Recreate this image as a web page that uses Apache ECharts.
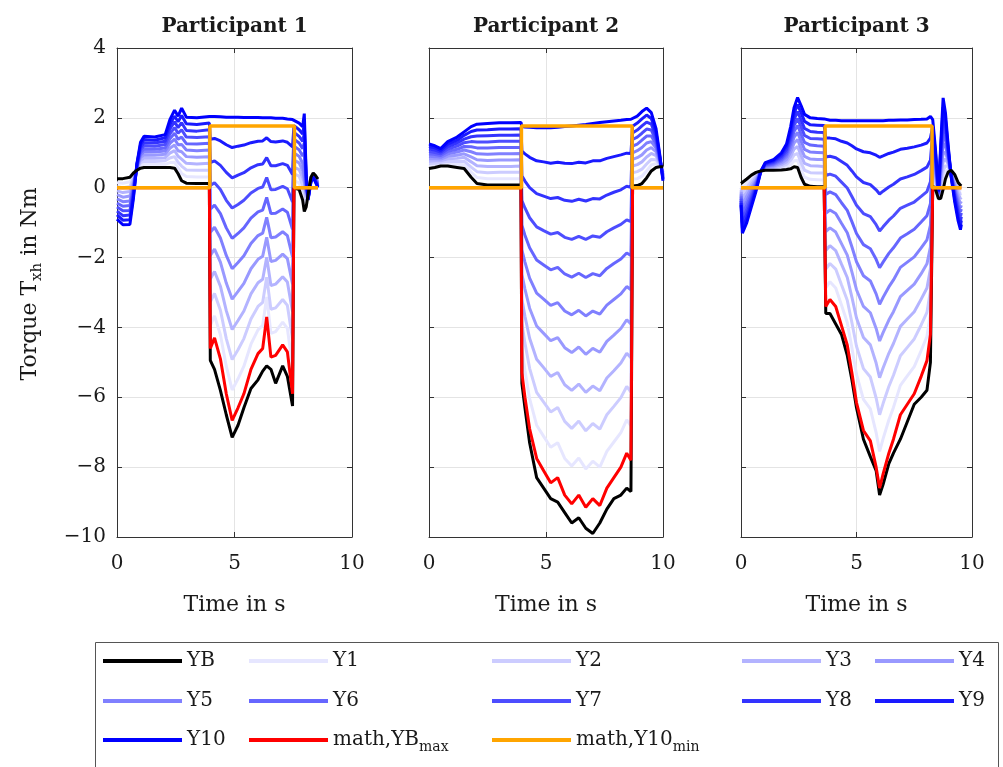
<!DOCTYPE html>
<html><head><meta charset="utf-8">
<script src="https://cdn.jsdelivr.net/npm/echarts@6/dist/echarts.min.js"></script>
<style>html,body{margin:0;padding:0;background:#fff}#c{width:1003px;height:767px}</style>
</head><body><div id="c"></div>
<script>
// ---------- Participant 1 ----------
const P1_t = [0, 0.25, 0.55, 0.7, 0.85, 1.0, 1.15, 1.6, 2.05, 2.25, 2.45, 2.6, 2.75, 2.95, 3.4, 3.93,
  3.97, 4.15, 4.4, 4.65, 4.9, 5.15, 5.4, 5.7, 6.0, 6.2, 6.37, 6.55, 6.75, 7.05, 7.25, 7.47,
  7.53, 7.75, 7.9, 7.97, 8.05, 8.13, 8.25, 8.35, 8.45, 8.55];
const P1_YB = [0.26, 0.26, 0.3, 0.42, 0.5, 0.56, 0.58, 0.58, 0.58, 0.58, 0.56, 0.4, 0.2, 0.13, 0.12, 0.12,
  -4.94, -5.2, -5.8, -6.5, -7.15, -6.8, -6.3, -5.75, -5.5, -5.25, -5.1, -5.2, -5.6, -5.1, -5.4, -6.25,
  0.0, -0.05, -0.35, -0.68, -0.55, -0.2, 0.3, 0.42, 0.35, 0.25];
const P1_YBmax = [0, 0, 0, 0, 0, 0, 0, 0, 0, 0, 0, 0, 0, 0, 0, 0,
  -4.6, -4.3, -4.9, -5.9, -6.66, -6.3, -5.9, -5.2, -4.75, -4.6, -3.7, -4.85, -4.8, -4.5, -4.7, -5.9,
  0, 0, 0, 0, 0, 0, 0, 0, 0, 0];
// rows: values of Y1..Y10 at each time in P1_t
const P1_Y = [
  [0.14, 0.03, -0.09, -0.20, -0.32, -0.44, -0.55, -0.67, -0.78, -0.90],
  [0.13, 0.00, -0.14, -0.27, -0.40, -0.53, -0.66, -0.80, -0.93, -1.06],
  [0.17, 0.03, -0.11, -0.24, -0.38, -0.51, -0.65, -0.78, -0.92, -1.05],
  [0.35, 0.28, 0.20, 0.13, 0.06, -0.01, -0.08, -0.16, -0.23, -0.30],
  [0.52, 0.54, 0.56, 0.58, 0.60, 0.62, 0.64, 0.66, 0.68, 0.70],
  [0.63, 0.71, 0.78, 0.86, 0.93, 1.00, 1.08, 1.15, 1.23, 1.30],
  [0.67, 0.76, 0.85, 0.94, 1.03, 1.11, 1.20, 1.29, 1.38, 1.47],
  [0.67, 0.75, 0.84, 0.93, 1.02, 1.10, 1.19, 1.28, 1.36, 1.45],
  [0.67, 0.77, 0.86, 0.96, 1.05, 1.14, 1.24, 1.33, 1.43, 1.52],
  [0.72, 0.85, 0.99, 1.13, 1.27, 1.40, 1.54, 1.68, 1.81, 1.95],
  [0.73, 0.89, 1.06, 1.22, 1.39, 1.56, 1.72, 1.89, 2.05, 2.22],
  [0.57, 0.73, 0.90, 1.06, 1.23, 1.39, 1.56, 1.72, 1.89, 2.05],
  [0.41, 0.62, 0.82, 1.03, 1.24, 1.45, 1.66, 1.86, 2.07, 2.28],
  [0.32, 0.51, 0.70, 0.89, 1.08, 1.26, 1.45, 1.64, 1.83, 2.02],
  [0.31, 0.50, 0.68, 0.87, 1.06, 1.25, 1.44, 1.62, 1.81, 2.00],
  [0.31, 0.50, 0.70, 0.89, 1.08, 1.27, 1.46, 1.66, 1.85, 2.04],
  [-3.94, -3.27, -2.61, -1.94, -1.28, -0.61, 0.06, 0.72, 1.39, 2.05],
  [-3.67, -3.03, -2.40, -1.76, -1.13, -0.50, 0.14, 0.77, 1.41, 2.04],
  [-4.21, -3.51, -2.82, -2.13, -1.44, -0.74, -0.05, 0.64, 1.34, 2.03],
  [-5.11, -4.32, -3.52, -2.73, -1.94, -1.15, -0.36, 0.44, 1.23, 2.02],
  [-5.79, -4.92, -4.06, -3.19, -2.32, -1.45, -0.58, 0.28, 1.15, 2.02],
  [-5.47, -4.64, -3.80, -2.97, -2.14, -1.31, -0.48, 0.36, 1.19, 2.02],
  [-5.11, -4.32, -3.53, -2.74, -1.95, -1.15, -0.36, 0.43, 1.22, 2.01],
  [-4.48, -3.76, -3.04, -2.32, -1.60, -0.87, -0.15, 0.57, 1.29, 2.01],
  [-4.07, -3.40, -2.72, -2.05, -1.37, -0.69, -0.02, 0.66, 1.33, 2.01],
  [-3.94, -3.28, -2.62, -1.96, -1.30, -0.64, 0.02, 0.68, 1.34, 2.00],
  [-3.13, -2.56, -1.99, -1.42, -0.85, -0.28, 0.29, 0.86, 1.43, 2.00],
  [-4.17, -3.48, -2.80, -2.11, -1.43, -0.74, -0.06, 0.63, 1.32, 2.00],
  [-4.12, -3.44, -2.76, -2.08, -1.41, -0.73, -0.05, 0.63, 1.31, 1.99],
  [-3.85, -3.20, -2.55, -1.90, -1.26, -0.61, 0.04, 0.69, 1.34, 1.99],
  [-4.03, -3.37, -2.70, -2.03, -1.37, -0.70, -0.03, 0.64, 1.30, 1.97],
  [-5.12, -4.33, -3.55, -2.76, -1.98, -1.19, -0.41, 0.38, 1.17, 1.95],
  [0.20, 0.40, 0.59, 0.79, 0.99, 1.19, 1.39, 1.58, 1.78, 1.98],
  [0.14, 0.33, 0.52, 0.71, 0.90, 1.09, 1.28, 1.47, 1.66, 1.85],
  [-0.14, 0.07, 0.28, 0.49, 0.70, 0.91, 1.12, 1.33, 1.54, 1.75],
  [-0.40, -0.12, 0.16, 0.44, 0.72, 1.00, 1.28, 1.56, 1.84, 2.12],
  [-0.46, -0.36, -0.27, -0.17, -0.08, 0.02, 0.12, 0.21, 0.31, 0.40],
  [-0.22, -0.23, -0.25, -0.26, -0.28, -0.29, -0.31, -0.32, -0.34, -0.35],
  [0.29, 0.27, 0.26, 0.24, 0.23, 0.21, 0.20, 0.18, 0.17, 0.15],
  [0.41, 0.40, 0.38, 0.37, 0.36, 0.35, 0.34, 0.32, 0.31, 0.30],
  [0.33, 0.31, 0.29, 0.27, 0.25, 0.23, 0.21, 0.19, 0.17, 0.15],
  [0.23, 0.20, 0.18, 0.15, 0.13, 0.10, 0.08, 0.05, 0.03, 0.00]
];
const P1_Y10min_t = [0, 3.95, 3.95, 7.55, 7.55, 8.55];
const P1_Y10min = [0, 0, 1.77, 1.77, 0, 0];

// ---------- Participant 2 ----------
const P2_t = [0, 0.25, 0.5, 0.8, 1.2, 1.5, 1.8, 2.05, 2.5, 3.0, 3.5, 3.93,
  3.97, 4.1, 4.3, 4.6, 4.9, 5.2, 5.5, 5.8, 6.1, 6.4, 6.7, 7.0, 7.3, 7.6, 7.9, 8.2, 8.45, 8.63,
  8.7, 8.9, 9.1, 9.3, 9.5, 9.7, 9.85, 10];
const P2_YB = [0.55, 0.58, 0.62, 0.62, 0.58, 0.55, 0.3, 0.12, 0.08, 0.08, 0.08, 0.08,
  -5.6, -6.3, -7.3, -8.3, -8.6, -8.9, -9.0, -9.3, -9.6, -9.45, -9.75, -9.9, -9.6, -9.2, -8.9, -8.8, -8.6, -8.7,
  0.05, 0.06, 0.12, 0.28, 0.48, 0.58, 0.6, 0.6];
const P2_YBmax = [0, 0, 0, 0, 0, 0, 0, 0, 0, 0, 0, 0,
  -5.3, -6.0, -6.9, -7.75, -8.1, -8.45, -8.3, -8.8, -9.05, -8.8, -9.15, -8.9, -9.1, -8.6, -8.3, -8.0, -7.6, -7.8,
  0, 0, 0, 0, 0, 0, 0, 0];
const P2_Y = [
  [0.62, 0.69, 0.76, 0.83, 0.90, 0.97, 1.04, 1.11, 1.18, 1.25],
  [0.64, 0.70, 0.77, 0.83, 0.89, 0.95, 1.01, 1.08, 1.14, 1.20],
  [0.67, 0.72, 0.77, 0.82, 0.87, 0.92, 0.97, 1.02, 1.07, 1.12],
  [0.69, 0.76, 0.83, 0.90, 0.97, 1.04, 1.11, 1.18, 1.25, 1.32],
  [0.67, 0.75, 0.84, 0.93, 1.02, 1.10, 1.19, 1.28, 1.36, 1.45],
  [0.66, 0.76, 0.87, 0.97, 1.08, 1.18, 1.29, 1.39, 1.50, 1.60],
  [0.45, 0.59, 0.74, 0.88, 1.03, 1.17, 1.32, 1.46, 1.61, 1.75],
  [0.29, 0.46, 0.63, 0.80, 0.97, 1.14, 1.31, 1.48, 1.65, 1.82],
  [0.26, 0.43, 0.61, 0.78, 0.96, 1.14, 1.31, 1.49, 1.66, 1.84],
  [0.26, 0.44, 0.61, 0.79, 0.97, 1.15, 1.33, 1.50, 1.68, 1.86],
  [0.26, 0.44, 0.61, 0.79, 0.97, 1.15, 1.33, 1.50, 1.68, 1.86],
  [0.26, 0.44, 0.62, 0.80, 0.98, 1.15, 1.33, 1.51, 1.69, 1.87],
  [-4.60, -3.89, -3.19, -2.48, -1.78, -1.07, -0.37, 0.34, 1.05, 1.75],
  [-5.23, -4.45, -3.68, -2.90, -2.13, -1.36, -0.58, 0.19, 0.97, 1.74],
  [-6.04, -5.17, -4.31, -3.45, -2.59, -1.72, -0.86, 0.00, 0.87, 1.73],
  [-6.80, -5.86, -4.91, -3.96, -3.02, -2.07, -1.12, -0.17, 0.77, 1.72],
  [-7.12, -6.14, -5.15, -4.17, -3.19, -2.21, -1.23, -0.24, 0.74, 1.72],
  [-7.43, -6.42, -5.40, -4.38, -3.37, -2.35, -1.33, -0.31, 0.70, 1.72],
  [-7.30, -6.29, -5.29, -4.29, -3.29, -2.28, -1.28, -0.28, 0.73, 1.73],
  [-7.75, -6.69, -5.64, -4.58, -3.53, -2.47, -1.42, -0.36, 0.70, 1.75],
  [-7.97, -6.89, -5.80, -4.72, -3.64, -2.56, -1.48, -0.39, 0.69, 1.77],
  [-7.74, -6.68, -5.62, -4.56, -3.51, -2.45, -1.39, -0.33, 0.73, 1.79],
  [-8.05, -6.96, -5.86, -4.77, -3.67, -2.57, -1.48, -0.38, 0.71, 1.81],
  [-7.83, -6.75, -5.68, -4.60, -3.53, -2.46, -1.38, -0.31, 0.77, 1.84],
  [-8.00, -6.91, -5.81, -4.71, -3.62, -2.52, -1.42, -0.32, 0.77, 1.87],
  [-7.55, -6.50, -5.45, -4.40, -3.36, -2.31, -1.26, -0.21, 0.84, 1.89],
  [-7.28, -6.26, -5.24, -4.22, -3.20, -2.17, -1.15, -0.13, 0.89, 1.91],
  [-7.01, -6.01, -5.02, -4.03, -3.04, -2.04, -1.05, -0.06, 0.94, 1.93],
  [-6.65, -5.69, -4.74, -3.78, -2.83, -1.87, -0.92, 0.04, 0.99, 1.95],
  [-6.82, -5.85, -4.87, -3.90, -2.92, -1.94, -0.97, 0.01, 0.98, 1.96],
  [0.24, 0.43, 0.62, 0.81, 1.00, 1.19, 1.38, 1.57, 1.76, 1.95],
  [0.26, 0.46, 0.66, 0.86, 1.06, 1.25, 1.45, 1.65, 1.85, 2.05],
  [0.33, 0.53, 0.74, 0.94, 1.15, 1.36, 1.56, 1.77, 1.97, 2.18],
  [0.48, 0.68, 0.88, 1.08, 1.28, 1.48, 1.68, 1.88, 2.08, 2.28],
  [0.65, 0.81, 0.98, 1.15, 1.32, 1.48, 1.65, 1.82, 1.98, 2.15],
  [0.69, 0.80, 0.92, 1.03, 1.14, 1.25, 1.36, 1.48, 1.59, 1.70],
  [0.64, 0.68, 0.72, 0.76, 0.80, 0.84, 0.88, 0.92, 0.96, 1.00],
  [0.56, 0.52, 0.48, 0.44, 0.40, 0.36, 0.32, 0.28, 0.24, 0.20]
];
const P2_Y10min_t = [0, 3.95, 3.95, 8.68, 8.68, 10];
const P2_Y10min = [0, 0, 1.77, 1.77, 0, 0];

// ---------- Participant 3 ----------
const P3_t = [0, 0.06, 0.25, 0.45, 0.65, 0.85, 1.05, 1.4, 1.75, 1.97, 2.15, 2.3, 2.45, 2.6, 2.75, 3.0, 3.3, 3.6,
  3.67, 3.85, 4.1, 4.35, 4.6, 4.8, 5.0, 5.3, 5.6, 5.85, 6.0, 6.15, 6.4, 6.6, 6.9, 7.2, 7.5, 7.8, 8.05, 8.2,
  8.3, 8.42, 8.55, 8.65, 8.75, 8.85, 8.97, 9.1, 9.25, 9.4, 9.5, 9.54];
const P3_YB = [0.12, 0.14, 0.25, 0.36, 0.44, 0.48, 0.5, 0.5, 0.51, 0.52, 0.54, 0.6, 0.58, 0.3, 0.1, 0.04, 0.03, 0.03,
  -3.6, -3.6, -3.9, -4.2, -4.8, -5.5, -6.3, -7.2, -7.7, -8.1, -8.8, -8.5, -7.9, -7.6, -7.2, -6.7, -6.2, -6.0, -5.8, -5.0,
  0.05, -0.05, -0.32, -0.3, -0.05, 0.25, 0.45, 0.5, 0.38, 0.15, 0.07, 0.05];
const P3_YBmax = [0, 0, 0, 0, 0, 0, 0, 0, 0, 0, 0, 0, 0, 0, 0, 0, 0, 0,
  -3.4, -3.2, -3.4, -3.95, -4.5, -5.3, -6.15, -6.95, -7.25, -8.0, -8.6, -8.2, -7.6, -7.2, -6.5, -6.2, -5.9, -5.4, -4.95, -4.2,
  0, 0, 0, 0, 0, 0, 0, 0, 0, 0, 0, 0];
const P3_Y = [
  [0.06, -0.00, -0.07, -0.13, -0.19, -0.25, -0.31, -0.38, -0.44, -0.50],
  [-0.00, -0.15, -0.29, -0.44, -0.58, -0.72, -0.87, -1.01, -1.16, -1.30],
  [0.13, 0.00, -0.13, -0.25, -0.38, -0.50, -0.63, -0.75, -0.88, -1.00],
  [0.27, 0.18, 0.09, -0.00, -0.10, -0.19, -0.28, -0.37, -0.46, -0.55],
  [0.39, 0.33, 0.28, 0.22, 0.17, 0.12, 0.06, 0.01, -0.05, -0.10],
  [0.48, 0.47, 0.47, 0.47, 0.47, 0.46, 0.46, 0.46, 0.45, 0.45],
  [0.52, 0.54, 0.57, 0.59, 0.61, 0.63, 0.65, 0.68, 0.70, 0.72],
  [0.53, 0.56, 0.59, 0.62, 0.65, 0.68, 0.71, 0.74, 0.77, 0.80],
  [0.56, 0.61, 0.66, 0.71, 0.76, 0.80, 0.85, 0.90, 0.95, 1.00],
  [0.59, 0.67, 0.74, 0.81, 0.89, 0.96, 1.03, 1.10, 1.18, 1.25],
  [0.66, 0.78, 0.90, 1.02, 1.15, 1.27, 1.39, 1.51, 1.63, 1.75],
  [0.77, 0.94, 1.11, 1.28, 1.45, 1.62, 1.79, 1.96, 2.13, 2.30],
  [0.78, 0.98, 1.18, 1.38, 1.58, 1.78, 1.98, 2.18, 2.38, 2.58],
  [0.51, 0.71, 0.92, 1.12, 1.33, 1.53, 1.74, 1.94, 2.15, 2.35],
  [0.30, 0.50, 0.70, 0.90, 1.10, 1.30, 1.50, 1.70, 1.90, 2.10],
  [0.24, 0.43, 0.63, 0.82, 1.02, 1.22, 1.41, 1.61, 1.80, 2.00],
  [0.23, 0.42, 0.62, 0.81, 1.01, 1.20, 1.40, 1.59, 1.79, 1.98],
  [0.22, 0.42, 0.61, 0.81, 1.00, 1.19, 1.39, 1.58, 1.78, 1.97],
  [-2.87, -2.33, -1.80, -1.26, -0.73, -0.19, 0.35, 0.88, 1.42, 1.95],
  [-2.69, -2.17, -1.66, -1.15, -0.64, -0.12, 0.39, 0.90, 1.42, 1.93],
  [-2.87, -2.33, -1.80, -1.27, -0.74, -0.20, 0.33, 0.86, 1.40, 1.93],
  [-3.36, -2.78, -2.19, -1.60, -1.02, -0.43, 0.16, 0.75, 1.33, 1.92],
  [-3.86, -3.22, -2.57, -1.93, -1.29, -0.65, -0.01, 0.64, 1.28, 1.92],
  [-4.58, -3.86, -3.13, -2.41, -1.69, -0.97, -0.25, 0.48, 1.20, 1.92],
  [-5.34, -4.54, -3.73, -2.92, -2.12, -1.31, -0.50, 0.31, 1.11, 1.92],
  [-6.06, -5.18, -4.29, -3.40, -2.52, -1.63, -0.74, 0.15, 1.03, 1.92],
  [-6.33, -5.42, -4.50, -3.58, -2.67, -1.75, -0.83, 0.09, 1.00, 1.92],
  [-7.01, -6.02, -5.02, -4.03, -3.04, -2.05, -1.06, -0.06, 0.93, 1.92],
  [-7.55, -6.50, -5.44, -4.39, -3.34, -2.29, -1.24, -0.18, 0.87, 1.92],
  [-7.19, -6.18, -5.16, -4.15, -3.14, -2.13, -1.12, -0.10, 0.91, 1.92],
  [-6.65, -5.69, -4.74, -3.79, -2.84, -1.88, -0.93, 0.02, 0.98, 1.93],
  [-6.29, -5.37, -4.46, -3.55, -2.64, -1.72, -0.81, 0.10, 1.02, 1.93],
  [-5.66, -4.81, -3.97, -3.12, -2.28, -1.44, -0.59, 0.25, 1.10, 1.94],
  [-5.39, -4.57, -3.76, -2.94, -2.13, -1.32, -0.50, 0.31, 1.13, 1.94],
  [-5.12, -4.33, -3.55, -2.76, -1.98, -1.19, -0.41, 0.38, 1.17, 1.95],
  [-4.66, -3.93, -3.19, -2.46, -1.72, -0.98, -0.25, 0.49, 1.22, 1.96],
  [-4.26, -3.57, -2.87, -2.18, -1.49, -0.80, -0.11, 0.59, 1.28, 1.97],
  [-3.58, -2.95, -2.33, -1.70, -1.08, -0.46, 0.17, 0.79, 1.42, 2.04],
  [0.24, 0.43, 0.62, 0.81, 1.00, 1.19, 1.38, 1.57, 1.76, 1.95],
  [0.07, 0.18, 0.30, 0.41, 0.53, 0.64, 0.76, 0.87, 0.99, 1.10],
  [-0.30, -0.28, -0.25, -0.23, -0.21, -0.19, -0.17, -0.14, -0.12, -0.10],
  [-0.14, 0.02, 0.18, 0.34, 0.50, 0.66, 0.82, 0.98, 1.14, 1.30],
  [0.21, 0.47, 0.74, 1.00, 1.26, 1.52, 1.78, 2.05, 2.31, 2.57],
  [0.44, 0.63, 0.82, 1.01, 1.20, 1.39, 1.58, 1.77, 1.96, 2.15],
  [0.53, 0.60, 0.68, 0.75, 0.83, 0.90, 0.98, 1.05, 1.13, 1.20],
  [0.48, 0.46, 0.44, 0.42, 0.40, 0.38, 0.36, 0.34, 0.32, 0.30],
  [0.30, 0.22, 0.15, 0.07, -0.01, -0.09, -0.17, -0.24, -0.32, -0.40],
  [0.04, -0.07, -0.18, -0.29, -0.40, -0.51, -0.62, -0.73, -0.84, -0.95],
  [-0.06, -0.18, -0.31, -0.44, -0.57, -0.69, -0.82, -0.95, -1.07, -1.20],
  [-0.06, -0.17, -0.28, -0.39, -0.50, -0.61, -0.72, -0.83, -0.94, -1.05]
];
const P3_Y10min_t = [0, 3.64, 3.64, 8.27, 8.27, 9.54];
const P3_Y10min = [0, 0, 1.77, 1.77, 0, 0];

// ---------- labels / ticks ----------
const TITLES = ['Participant 1', 'Participant 2', 'Participant 3'];
const X_NAME = 'Time in s';
const Y_NAMES = ['Y1', 'Y2', 'Y3', 'Y4', 'Y5', 'Y6', 'Y7', 'Y8', 'Y9', 'Y10'];
const Y_COLORS = ['#e6e6ff', '#ccccff', '#b3b3ff', '#9999ff', '#8080ff', '#6666ff', '#4d4dff', '#3333ff', '#1a1aff', '#0000ff'];

const FONT = 'DejaVu Serif';
const TXT = '#1a1a1a';
const AX = '#333333';
const GRID_COLOR = '#e4e4e4';

const panels = [
  {t: P1_t, yb: P1_YB, ybmax: P1_YBmax, y: P1_Y, ot: P1_Y10min_t, ov: P1_Y10min},
  {t: P2_t, yb: P2_YB, ybmax: P2_YBmax, y: P2_Y, ot: P2_Y10min_t, ov: P2_Y10min},
  {t: P3_t, yb: P3_YB, ybmax: P3_YBmax, y: P3_Y, ot: P3_Y10min_t, ov: P3_Y10min}
];
const gridBoxes = [
  {left: 117, top: 48, width: 235, height: 489},
  {left: 429, top: 48, width: 234, height: 489},
  {left: 741, top: 48, width: 231, height: 489}
];

const minusFmt = v => (v < 0 ? '\u2212' + Math.abs(v) : String(v));

const xAxes = [], yAxes = [], series = [];
gridBoxes.forEach((g, i) => {
  xAxes.push({
    gridIndex: i, type: 'value', min: 0, max: 10, interval: 5, position: 'bottom',
    axisLine: {show: true, onZero: false, lineStyle: {color: AX, width: 1}},
    axisTick: {show: true, inside: true, length: 5, lineStyle: {color: AX}},
    axisLabel: {show: true, margin: 17, fontFamily: FONT, fontSize: 20, color: TXT},
    splitLine: {show: true, lineStyle: {color: GRID_COLOR, width: 1}},
    name: X_NAME, nameLocation: 'middle', nameGap: 57,
    nameTextStyle: {fontFamily: FONT, fontSize: 22, color: TXT}
  });
  xAxes.push({
    gridIndex: i, type: 'value', min: 0, max: 10, interval: 5, position: 'top',
    axisLine: {show: true, onZero: false, lineStyle: {color: AX, width: 1}},
    axisTick: {show: true, inside: true, length: 5, lineStyle: {color: AX}},
    axisLabel: {show: false}, splitLine: {show: false}
  });
  yAxes.push({
    gridIndex: i, type: 'value', min: -10, max: 4, interval: 2, position: 'left',
    axisLine: {show: true, onZero: false, lineStyle: {color: AX, width: 1}},
    axisTick: {show: true, inside: true, length: 5, lineStyle: {color: AX}},
    axisLabel: {show: i === 0, margin: 11, fontFamily: FONT, fontSize: 20, color: TXT, formatter: minusFmt},
    splitLine: {show: true, lineStyle: {color: GRID_COLOR, width: 1}}
  });
  yAxes.push({
    gridIndex: i, type: 'value', min: -10, max: 4, interval: 2, position: 'right',
    axisLine: {show: true, onZero: false, lineStyle: {color: AX, width: 1}},
    axisTick: {show: true, inside: true, length: 5, lineStyle: {color: AX}},
    axisLabel: {show: false}, splitLine: {show: false}
  });

  const p = panels[i];
  const base = {type: 'line', xAxisIndex: 2 * i, yAxisIndex: 2 * i, showSymbol: false, symbol: 'none',
    animation: false, silent: true};
  Y_NAMES.forEach((nm, k) => {
    series.push(Object.assign({}, base, {
      name: nm, color: Y_COLORS[k],
      lineStyle: {color: Y_COLORS[k], width: 3},
      data: p.t.map((t, j) => [t, p.y[j][k]])
    }));
  });
  series.push(Object.assign({}, base, {
    name: 'YB', color: '#000000', lineStyle: {color: '#000000', width: 3},
    data: p.t.map((t, j) => [t, p.yb[j]])
  }));
  series.push(Object.assign({}, base, {
    name: 'math,YBmax', color: '#ff0000', lineStyle: {color: '#ff0000', width: 3},
    data: p.t.map((t, j) => [t, p.ybmax[j]])
  }));
  series.push(Object.assign({}, base, {
    name: 'math,Y10min', color: '#ffa500', lineStyle: {color: '#ffa500', width: 3.5},
    data: p.ot.map((t, j) => [t, p.ov[j]])
  }));
});

// legend layout (MATLAB style, 5 columns)
const LEGEND_ITEMS = [
  ['YB', 103, 663], ['Y1', 249, 663], ['Y2', 492, 663], ['Y3', 742, 663], ['Y4', 875, 663],
  ['Y5', 103, 703], ['Y6', 249, 703], ['Y7', 492, 703], ['Y8', 742, 703], ['Y9', 875, 703],
  ['Y10', 103, 742], ['math,YBmax', 249, 742], ['math,Y10min', 492, 742]
];
const legendFmt = name => {
  if (name === 'math,YBmax') return '{n|math,YB}{s|max}';
  if (name === 'math,Y10min') return '{n|math,Y10}{s|min}';
  return '{n|' + name + '}';
};
const legends = LEGEND_ITEMS.map(([nm, x, y]) => ({
  data: [nm], left: x, top: y - 12, padding: 0, orient: 'horizontal',
  icon: 'rect', itemWidth: 79, itemHeight: 4, itemGap: 0, selectedMode: false,
  formatter: legendFmt,
  textStyle: {
    fontFamily: FONT, fontSize: 20, color: TXT,
    rich: {
      n: {fontFamily: FONT, fontSize: 20, color: TXT, lineHeight: 24},
      s: {fontFamily: FONT, fontSize: 14, color: TXT, padding: [14, 0, 0, 0]}
    }
  }
}));

const graphic = [
  {type: 'rect', shape: {x: 95.5, y: 642.5, width: 903, height: 140}, style: {fill: 'none', stroke: '#555', lineWidth: 1}, silent: true},
  {type: 'text', x: 30, y: 284, rotation: Math.PI / 2,
    style: {text: '{a|Torque T}{b|xh}{a| in Nm}', align: 'center', verticalAlign: 'middle',
      rich: {a: {fontFamily: FONT, fontSize: 22, fill: TXT, lineHeight: 26},
             b: {fontFamily: FONT, fontSize: 15, fill: TXT, padding: [14, 0, 0, 0]}}}}
];
gridBoxes.forEach((g, i) => {
  graphic.push({type: 'text', x: g.left + g.width / 2, y: 27,
    style: {text: TITLES[i], font: 'bold 20px "' + FONT + '"', fill: TXT, align: 'center', verticalAlign: 'middle'}});
});

const chart = echarts.init(document.getElementById('c'), null, {renderer: 'canvas'});
chart.setOption({
  animation: false,
  backgroundColor: '#ffffff',
  grid: gridBoxes.map(g => Object.assign({containLabel: false}, g)),
  xAxis: xAxes,
  yAxis: yAxes,
  legend: legends,
  graphic: graphic,
  series: series
});
</script>
</body></html>
